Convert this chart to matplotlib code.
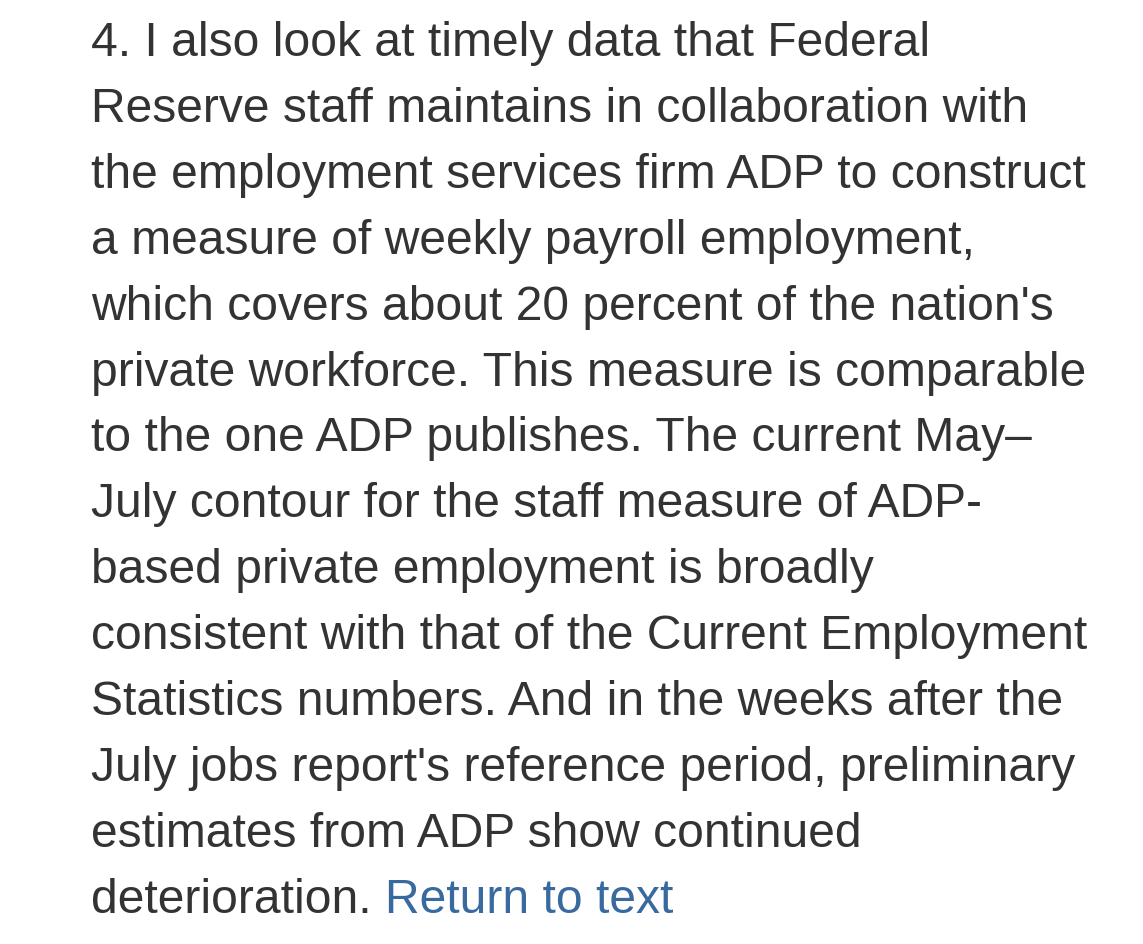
import matplotlib
matplotlib.use("Agg")
import matplotlib.pyplot as plt

lines = [
    "4. I also look at timely data that Federal",
    "Reserve staff maintains in collaboration with",
    "the employment services firm ADP to construct",
    "a measure of weekly payroll employment,",
    "which covers about 20 percent of the nation's",
    "private workforce. This measure is comparable",
    "to the one ADP publishes. The current May\u2013",
    "July contour for the staff measure of ADP-",
    "based private employment is broadly",
    "consistent with that of the Current Employment",
    "Statistics numbers. And in the weeks after the",
    "July jobs report's reference period, preliminary",
    "estimates from ADP show continued",
    "deterioration.",
]
link_text = "Return to text"

W, H = 1143, 945
left_px = 91
first_baseline_px = 56
line_step_px = 65.9
font = dict(family=["Liberation Sans", "DejaVu Sans"], fontsize=34.6)
text_color = "#333333"
link_color = "#38699f"

fig = plt.figure(figsize=(W / 100, H / 100), dpi=100)
fig.patch.set_facecolor("white")

last = None
for i, s in enumerate(lines):
    y = 1 - (first_baseline_px + i * line_step_px) / H
    last = fig.text(left_px / W, y, s, color=text_color, va="baseline", ha="left", **font)

# put the link right after the last line, one space apart
renderer = fig.canvas.get_renderer()
bb = last.get_window_extent(renderer)
probe = fig.text(0, 0, "a a", **font)
probe2 = fig.text(0, 0, "aa", **font)
space_w = probe.get_window_extent(renderer).width - probe2.get_window_extent(renderer).width
probe.remove()
probe2.remove()
fig.text((bb.x1 + space_w) / W, last.get_position()[1], link_text,
         color=link_color, va="baseline", ha="left", **font)

fig.savefig("out.png", dpi=100, facecolor="white")
